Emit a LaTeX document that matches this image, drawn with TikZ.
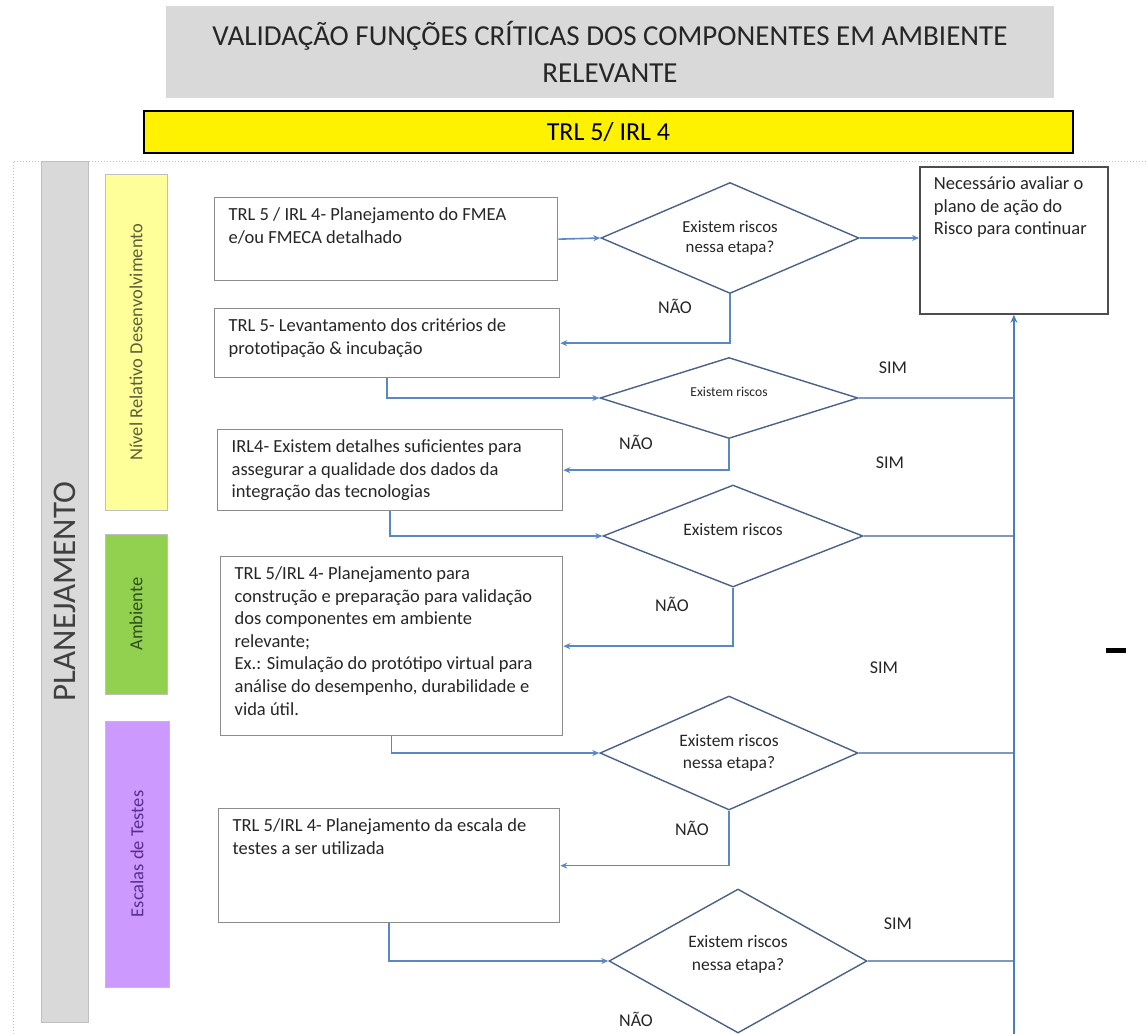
\documentclass[tikz,border=0pt]{standalone}
\usepackage{fontspec}
\setmainfont{Carlito}
\usetikzlibrary{shapes.geometric,arrows.meta,calc}

\definecolor{boxgray}{HTML}{8C8C8C}
\definecolor{darkedge}{HTML}{4D4D4D}
\definecolor{diagedge}{HTML}{4A6285}
\definecolor{flowblue}{HTML}{5A88C4}
\definecolor{spineblue}{HTML}{4A7EBB}
\definecolor{simblue}{HTML}{7F98BC}
\definecolor{titlegray}{HTML}{D9D9D9}
\definecolor{barEdge}{HTML}{BFBFBF}
\definecolor{laneyellow}{HTML}{FFFF99}
\definecolor{lanegreen}{HTML}{92D050}
\definecolor{lanepurple}{HTML}{CC99FF}
\definecolor{txtolive}{HTML}{5E5E3A}
\definecolor{txtgreen}{HTML}{2F4F1B}
\definecolor{txtpurple}{HTML}{5B2C8F}
\definecolor{txtgray}{HTML}{262626}

% fixed-size text area, text aligned to the top left
\newcommand\boxtext[3]{\parbox[c][#2][t]{#1}{\raggedright #3}}

\begin{document}
\begin{tikzpicture}[x=1bp,y=-1bp,
  every node/.style={font=\fontsize{18.5bp}{22.6bp}\selectfont, inner sep=0pt, text=txtgray},
  stepbox/.style={draw=boxgray, line width=1.3bp, fill=white, inner xsep=14bp, inner ysep=10bp, anchor=north west},
  riskbox/.style={stepbox, draw=darkedge, line width=1.8bp},
  decision/.style={diamond, aspect=2.3, draw=diagedge, line width=1.4bp, fill=white, inner sep=0pt, align=center,
    minimum width=258bp},
  lane/.style={draw=barEdge, line width=0.8bp, rotate=90, minimum height=62bp},
  flow/.style={draw=flowblue, line width=1.6bp, -{Stealth[length=7bp,width=6bp]}},
  simline/.style={draw=simblue, line width=2.4bp},
  spineline/.style={draw=spineblue, line width=2.8bp, -{Stealth[length=8bp,width=7bp]}},
  framedot/.style={draw=barEdge, line width=1bp, dotted},
  answer/.style={font=\fontsize{18bp}{20bp}\selectfont, text=txtgray}
]
\useasboundingbox (0,0) rectangle (1147,1034);

% outer dotted frame
\draw[framedot] (13,1034) -- (13,161) -- (1147,161);

% headings
\node[fill=titlegray, minimum width=888bp, minimum height=92bp, align=center,
      font=\fontsize{29bp}{37bp}\selectfont] (title) at (610,52)
  {VALIDAÇÃO FUNÇÕES CRÍTICAS DOS COMPONENTES EM AMBIENTE\\RELEVANTE};
\node[draw=black, line width=2bp, fill=yellow, minimum width=929bp, minimum height=42bp,
      font=\fontsize{26bp}{30bp}\selectfont, text=black] (trl) at (608.5,132) {TRL 5/ IRL 4};

% phase bar and lanes
\node[fill=titlegray, draw=barEdge, line width=0.8bp, rotate=90, minimum width=861bp, minimum height=47bp,
      font=\fontsize{33bp}{35bp}\selectfont, text=black!75] (phase) at (64.5,591.5) {PLANEJAMENTO};
\node[lane, fill=laneyellow, minimum width=336bp, text=txtolive] (laneA) at (136,342) {Nível Relativo Desenvolvimento};
\node[lane, fill=lanegreen, minimum width=160bp, text=txtgreen] (laneB) at (136,614) {Ambiente};
\node[lane, fill=lanepurple, minimum width=266bp, minimum height=64bp, text=txtpurple] (laneC) at (137,854) {Escalas de Testes};

% process steps
\node[stepbox] (B1) at (214,197) {\boxtext{315bp}{63bp}{TRL 5 / IRL 4- Planejamento do FMEA\\e/ou FMECA detalhado}};
\node[stepbox] (B2) at (214,308) {\boxtext{317bp}{49bp}{TRL 5- Levantamento dos critérios de\\prototipação \& incubação}};
\node[stepbox] (B3) at (217,429) {\boxtext{317bp}{61bp}{IRL4- Existem detalhes suficientes para\\assegurar a qualidade dos dados da\\integração das tecnologias}};
\node[stepbox] (B4) at (220,556) {\boxtext{314bp}{159bp}{TRL 5/IRL 4- Planejamento para\\construção e preparação para validação\\dos componentes em ambiente\\relevante;\\Ex.: Simulação do protótipo virtual para\\análise do desempenho, durabilidade e\\vida útil.}};
\node[stepbox] (B5) at (218,808) {\boxtext{313bp}{94bp}{TRL 5/IRL 4- Planejamento da escala de\\testes a ser utilizada}};
\node[riskbox] (N) at (919,166) {\boxtext{160bp}{127bp}{Necessário avaliar o\\plano de ação do\\Risco para continuar}};

% decisions
\node[decision, minimum height=111bp, font=\fontsize{16.8bp}{20bp}\selectfont] (D1) at (730,238) {Existem riscos\\nessa etapa?};
\node[decision, minimum height=81bp, font=\fontsize{13.6bp}{16bp}\selectfont] (D2) at (729,398) {\raisebox{12bp}{Existem riscos}};
\node[decision, minimum height=102bp, minimum width=260bp, font=\fontsize{17.5bp}{22bp}\selectfont] (D3) at (733,536) {\raisebox{14bp}{Existem riscos}};
\node[decision, minimum height=114bp, font=\fontsize{17.5bp}{22.5bp}\selectfont] (D4) at (729,753) {Existem riscos\\nessa etapa?};
\node[decision, minimum height=144bp, font=\fontsize{17.5bp}{22.5bp}\selectfont] (D5) at (738,961) {Existem riscos\\nessa etapa?\\[-6.5bp]};

% common line to the risk box
\coordinate (spine) at (N.south |- 0,1034);

% connectors
\draw[flow] (B1.east) -- (D1.west);
\draw[flow] (D1.east) -- (D1.east -| N.west);
\draw[flow] (D1.south) |- (B2.east);
\draw[flow] (B2.south) |- (D2.west);
\draw[flow] (D2.south) |- (B3.east);
\draw[flow] (B3.south) |- (D3.west);
\draw[flow] (D3.south) |- (B4.east);
\draw[flow] (B4.south) |- (D4.west);
\draw[flow] (D4.south) |- (B5.east);
\draw[flow] (B5.south) |- (D5.west);
\draw[simline] (D2.east) -- (D2.east -| spine);
\draw[simline] (D3.east) -- (D3.east -| spine);
\draw[simline] (D4.east) -- (D4.east -| spine);
\draw[simline] (D5.east) -- (D5.east -| spine);
\draw[spineline] (spine) -- (N.south);

% answer labels
\node[answer] (nao1) at (675,306) {NÃO};
\node[answer] (nao2) at (636,442) {NÃO};
\node[answer] (nao3) at (672,604) {NÃO};
\node[answer] (nao4) at (692,828) {NÃO};
\node[answer] (nao5) at (636,1019) {NÃO};
\node[answer] (sim1) at (893,368) {SIM};
\node[answer] (sim2) at (890,463) {SIM};
\node[answer] (sim3) at (884,668) {SIM};
\node[answer] (sim4) at (898,924) {SIM};

% short stroke at the right margin
\node[fill=black, minimum width=20bp, minimum height=5bp] (dash) at (1116,650) {};
\end{tikzpicture}
\end{document}
